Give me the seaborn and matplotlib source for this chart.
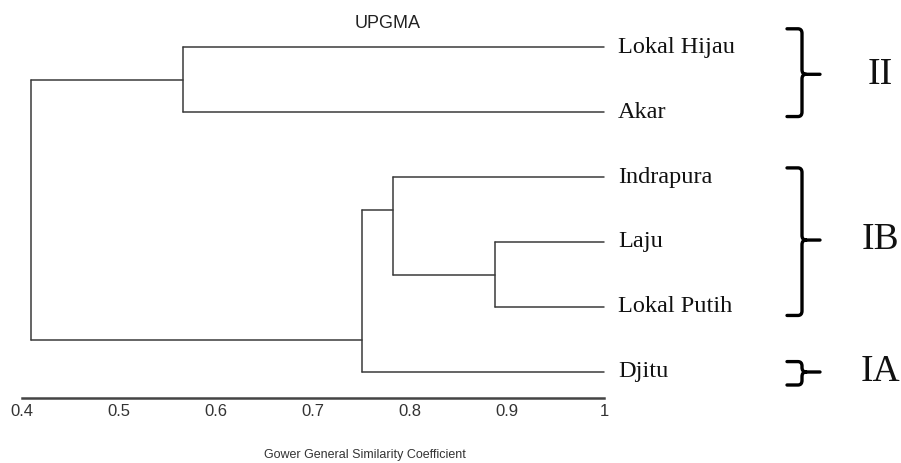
import matplotlib
matplotlib.use("Agg")
import matplotlib.pyplot as plt
from matplotlib.path import Path
from matplotlib.patches import PathPatch
import seaborn as sns
import pandas as pd

# ─── Data ────────────────────────────────────────────────────────────────────
leaves = ["Lokal Hijau", "Akar", "Indrapura", "Laju", "Lokal Putih", "Djitu"]

# merges: (left child, right child, similarity, y-level of the node)
# leaf ids are 0..5, new nodes get ids 6, 7, ...
merge_a   = [0, 3, 2, 8, 6]
merge_b   = [1, 4, 7, 5, 9]
merge_sim = [0.566, 0.888, 0.782, 0.750, 0.409]
merge_y   = [0.5, 3.5, 2.5, 4.5, None]

groups      = ["II", "IB", "IA"]
group_top   = [-0.28, 1.86, 4.84]
group_bot   = [1.07, 4.13, 5.20]
group_mid   = [0.42, 2.97, 5.0]

ticks      = [0.4, 0.5, 0.6, 0.7, 0.8, 0.9, 1.0]
tick_text  = ["0.4", "0.5", "0.6", "0.7", "0.8", "0.9", "1"]

# ─── Build dendrogram segments ───────────────────────────────────────────────
node_x = {i: 1.0 for i in range(len(leaves))}
node_y = {i: float(i) for i in range(len(leaves))}
rows = []
seg = 0
for k, (a, b, s, y) in enumerate(zip(merge_a, merge_b, merge_sim, merge_y)):
    nid = len(leaves) + k
    for c in (a, b):
        rows += [(seg, node_x[c], node_y[c]), (seg, s, node_y[c])]
        seg += 1
    rows += [(seg, s, node_y[a]), (seg, s, node_y[b])]
    seg += 1
    node_x[nid] = s
    node_y[nid] = y if y is not None else (node_y[a] + node_y[b]) / 2
segs = pd.DataFrame(rows, columns=["seg", "x", "y"])

# ─── Plot ────────────────────────────────────────────────────────────────────
sns.set_style("white")
plt.rcParams["font.family"] = ["Liberation Sans", "DejaVu Sans"]

W, H = 901, 463
fig = plt.figure(figsize=(W / 100, H / 100), dpi=100)
ax = fig.add_axes([0, (H - 398) / H, 1, 398 / H])

px0, scale = 22, 970          # pixel of 0.4, pixels per unit
ax.set_xlim(0.4 - px0 / scale, 0.4 + (W - px0) / scale)
ax.set_ylim((398 - 47) / 65, -47 / 65)

sns.lineplot(data=segs, x="x", y="y", units="seg", estimator=None, sort=False,
             color="#3a3a3a", linewidth=1.1, ax=ax, legend=False)

for i, name in enumerate(leaves):
    ax.text(1.0 + 14 / scale, i, name, va="center", ha="left", fontsize=17.5,
            family=["Liberation Serif"], color="#111111")

# group brackets (curly, right-facing)
bx_in, bx, bx_out = 1.0 + 183 / scale, 1.0 + 198 / scale, 1.0 + 216 / scale
cx = 4 / scale      # corner curvature in x
cy = 0.07           # corner curvature in y
for g, t, b, m in zip(groups, group_top, group_bot, group_mid):
    verts = [(bx_in, t), (bx - cx, t), (bx, t), (bx, t + cy),
             (bx, m - cy), (bx, m), (bx + cx, m), (bx_out, m),
             (bx + cx, m), (bx, m), (bx, m + cy),
             (bx, b - cy), (bx, b), (bx - cx, b), (bx_in, b)]
    codes = [Path.MOVETO, Path.LINETO, Path.CURVE3, Path.CURVE3,
             Path.LINETO, Path.CURVE3, Path.CURVE3, Path.LINETO,
             Path.MOVETO, Path.CURVE3, Path.CURVE3,
             Path.LINETO, Path.CURVE3, Path.CURVE3, Path.LINETO]
    ax.add_patch(PathPatch(Path(verts, codes), fill=False, lw=2.4,
                           edgecolor="black", capstyle="round",
                           joinstyle="round", clip_on=False))
    ax.text(1.0 + 276 / scale, m, g, va="center", ha="center", fontsize=27,
            family=["Liberation Serif"], color="#111111")

for s in ["top", "right", "left"]:
    ax.spines[s].set_visible(False)
ax.spines["bottom"].set_bounds(0.4, 1.0)
ax.spines["bottom"].set_color("#444444")
ax.spines["bottom"].set_linewidth(1.8)
ax.set_xticks(ticks)
ax.set_xticklabels(tick_text, fontsize=12, color="#333333")
ax.tick_params(axis="x", direction="in", length=4, width=0.8, pad=4,
               colors="#444444", labelcolor="#333333")
ax.set_yticks([])
ax.set_xlabel("")
ax.set_ylabel("")

ax.text(0.4 + (388 - px0) / scale, -0.36, "UPGMA", ha="center", va="center",
        fontsize=13, color="#222222")
fig.text(365 / W, 1 - 455 / H, "Gower General Similarity Coefficient",
         ha="center", va="center", fontsize=9, color="#333333")

fig.savefig("out.png", dpi=100)
